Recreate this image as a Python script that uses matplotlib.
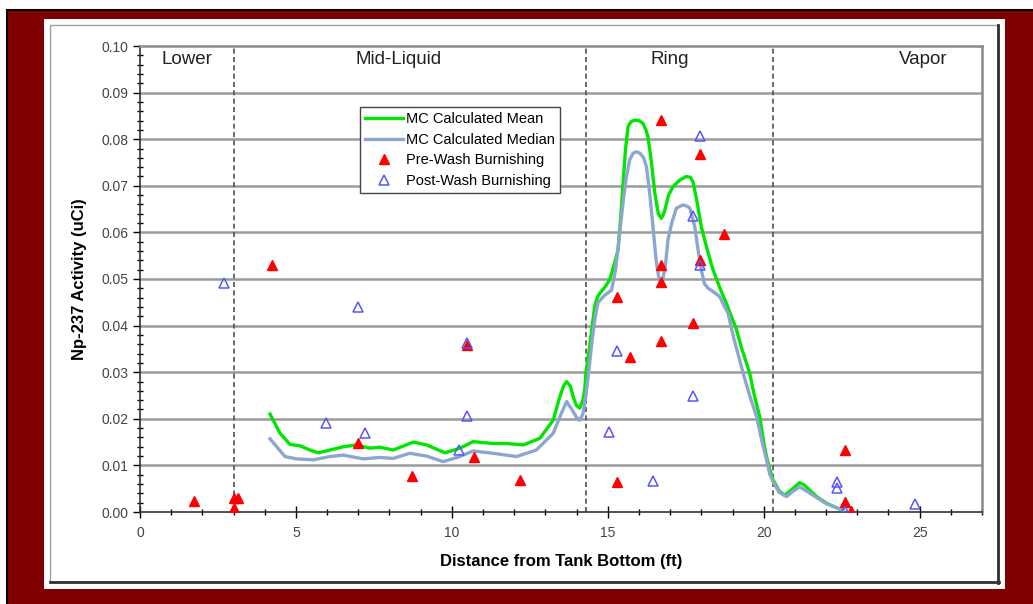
import matplotlib
matplotlib.use('Agg')
import matplotlib.pyplot as plt
from matplotlib.patches import Rectangle
from matplotlib.lines import Line2D
from matplotlib.ticker import MultipleLocator, FormatStrFormatter

plt.rcParams['font.family'] = ['Liberation Sans', 'DejaVu Sans']

# MC calculated mean (green)
mean_x = [4.17, 4.49, 4.81, 5.13, 5.45, 5.72, 6.09, 6.52, 6.94, 7.37, 7.69, 8.12,
          8.76, 9.19, 9.78, 10.26, 10.68, 11.32, 11.75, 12.29, 12.82, 13.25, 13.46,
          13.58, 13.68, 13.8, 13.9, 14.0, 14.1, 14.2, 14.26, 14.3, 14.42, 14.5, 14.58,
          14.66, 14.74, 14.9, 15.06, 15.2, 15.33, 15.41, 15.49, 15.57, 15.65, 15.75,
          15.87, 16.0, 16.13, 16.22, 16.29, 16.4, 16.51, 16.62, 16.72, 16.82, 16.95,
          17.09, 17.3, 17.52, 17.65, 17.73, 17.85, 18.0, 18.2, 18.38, 18.6, 18.8,
          19.12, 19.3, 19.55, 19.7, 19.87, 20.0, 20.09, 20.2, 20.3, 20.5, 20.67,
          20.9, 21.15, 21.3, 21.47, 21.7, 22.01, 22.3, 22.54]
mean_y = [0.0210, 0.0169, 0.0145, 0.0142, 0.0133, 0.0127, 0.0133, 0.0140, 0.0144,
          0.0137, 0.0139, 0.0133, 0.0150, 0.0144, 0.0127, 0.0137, 0.0151, 0.0147,
          0.0147, 0.0144, 0.0158, 0.0197, 0.0247,
          0.0270, 0.0280, 0.0270, 0.0245, 0.0228, 0.0223, 0.0240, 0.0262, 0.0300,
          0.0355, 0.0400, 0.0441, 0.0460, 0.0469, 0.0482, 0.0498, 0.0530, 0.0562,
          0.0630, 0.0705, 0.0780, 0.0827, 0.0838, 0.0841, 0.0840, 0.0834, 0.0820,
          0.0805, 0.0750, 0.0684, 0.0640, 0.0630, 0.0645, 0.0680, 0.0698, 0.0712,
          0.0720, 0.0718, 0.0709, 0.0670, 0.0612, 0.0560, 0.0519, 0.0480, 0.0448,
          0.0393, 0.0350, 0.0298, 0.0250, 0.0205, 0.0150, 0.0119, 0.0090, 0.0069,
          0.0045, 0.0036, 0.0048, 0.0063, 0.0058, 0.0047, 0.0033, 0.0019, 0.0010,
          0.0004]

# MC calculated median (steel blue)
median_x = [4.17, 4.65, 5.02, 5.56, 6.09, 6.52, 7.16, 7.69, 8.12, 8.65, 9.19, 9.72,
            10.26, 10.68, 11.32, 12.07, 12.71, 13.25, 13.5, 13.68, 13.85, 14.0, 14.1,
            14.2, 14.3, 14.42, 14.5, 14.6, 14.69, 14.9, 15.12, 15.25, 15.38, 15.5,
            15.6, 15.7, 15.81, 15.92, 16.03, 16.15, 16.24, 16.35, 16.45, 16.55, 16.65,
            16.75, 16.85, 16.93, 17.05, 17.2, 17.41, 17.55, 17.63, 17.72, 17.79, 17.9,
            18.0, 18.1, 18.22, 18.4, 18.59, 18.75, 18.86, 19.05, 19.23, 19.34, 19.55,
            19.77, 19.95, 20.09, 20.2, 20.3, 20.5, 20.73, 20.95, 21.15, 21.35, 21.58,
            22.0, 22.54]
median_y = [0.0157, 0.0119, 0.0114, 0.0112, 0.0119, 0.0122, 0.0114, 0.0117, 0.0115,
            0.0126, 0.0120, 0.0108, 0.0119, 0.0131, 0.0126, 0.0119, 0.0133, 0.0169,
            0.0210, 0.0237, 0.0220, 0.0203, 0.0197, 0.0210, 0.0250, 0.0320, 0.0370,
            0.0420, 0.0450, 0.0465, 0.0476, 0.0520, 0.0598, 0.0670, 0.0720, 0.0755,
            0.0770, 0.0773, 0.0770, 0.0760, 0.0741, 0.0680, 0.0612, 0.0540, 0.0498,
            0.0494, 0.0530, 0.0584, 0.0620, 0.0652, 0.0659, 0.0656, 0.0652, 0.0630,
            0.0612, 0.0560, 0.0519, 0.0490, 0.0480, 0.0472, 0.0462, 0.0440, 0.0426,
            0.0370, 0.0326, 0.0298, 0.0250, 0.0205, 0.0150, 0.0112, 0.0080, 0.0065,
            0.0042, 0.0033, 0.0045, 0.0054, 0.0046, 0.0036, 0.0018, 0.0004]

# Pre-wash burnishing (red filled)
pre_x = [1.74, 3.01, 3.15, 3.01, 4.22, 6.98, 8.73, 10.49, 10.72, 12.2, 15.30, 15.30,
         15.71, 16.72, 16.72, 16.72, 16.72, 17.73, 17.97, 17.97, 18.72, 22.6, 22.6,
         22.8]
pre_y = [0.0024, 0.0029, 0.0029, 0.0009, 0.0529, 0.0148, 0.0078, 0.0358, 0.0117,
         0.0069, 0.0461, 0.0064, 0.0333, 0.0841, 0.0530, 0.0494, 0.0368, 0.0405,
         0.0768, 0.0541, 0.0597, 0.0132, 0.0022, 0.0003]

# Post-wash burnishing (blue open)
post_x = [2.69, 5.96, 6.98, 7.22, 10.22, 10.49, 10.49, 15.03, 15.30, 16.45, 17.73,
          17.73, 17.97, 17.97, 22.35, 22.35, 22.6, 24.86]
post_y = [0.0491, 0.0190, 0.0439, 0.0170, 0.0133, 0.0362, 0.0205, 0.0172, 0.0345,
          0.0067, 0.0250, 0.0635, 0.0807, 0.0530, 0.0064, 0.0052, 0.0003, 0.0017]

region_names = ['Lower', 'Mid-Liquid', 'Ring', 'Vapor']
region_x = [1.5, 8.3, 17.0, 25.1]
boundaries = [3.0, 14.3, 20.3]

W, H = 1033, 604
fig = plt.figure(figsize=(W / 100, H / 100), dpi=100)
fig.patch.set_facecolor('white')


def px_rect(x0, y0, x1, y1, **kw):
    r = Rectangle((x0 / W, 1 - y1 / H), (x1 - x0) / W, (y1 - y0) / H,
                  transform=fig.transFigure, zorder=-10, **kw)
    fig.patches.append(r)


def px_line(xs, ys, **kw):
    fig.lines.append(Line2D([v / W for v in xs], [1 - v / H for v in ys],
                            transform=fig.transFigure, zorder=-9, **kw))


# maroon background with thin black edge, white panel, shadowed frame
px_rect(7, 10, W + 20, H + 20, facecolor='#800000', edgecolor='black', lw=1.5)
px_rect(44, 19, 1005, 589, facecolor='white', edgecolor='none')
px_rect(50, 25, 998, 582, facecolor='none', edgecolor='#a0a0a0', lw=1.0)
px_line([998, 998], [25, 583], color='#303030', lw=2.0)
px_line([50, 999], [582, 582], color='#303030', lw=2.0)

ax = fig.add_axes([140 / W, 1 - 512 / H, 842 / W, 466 / H])
ax.set_facecolor('white')

for yv in [0.01 * i for i in range(1, 10)]:
    ax.axhline(yv, color='#9a9a9a', lw=1.8, zorder=1)
for b in boundaries:
    ax.axvline(b, color='#505050', lw=1.2, ls=(0, (3, 2)), zorder=1)

ax.plot(mean_x, mean_y, color='#00e600', lw=2.4, label='MC Calculated Mean',
        zorder=3, solid_joinstyle='round')
ax.plot(median_x, median_y, color='#8da6cf', lw=2.4, label='MC Calculated Median',
        zorder=3, solid_joinstyle='round')
ax.plot(pre_x, pre_y, ls='none', marker='^', ms=6.5, color='#ff0000',
        mec='#ff0000', label='Pre-Wash Burnishing', zorder=4)
ax.plot(post_x, post_y, ls='none', marker='^', ms=6.5, mfc='none',
        mec='#5555ff', mew=1.1, label='Post-Wash Burnishing', zorder=5)

for name, xv in zip(region_names, region_x):
    ax.text(xv, 0.097, name, ha='center', va='center', fontsize=13.5, color='#222222')

ax.set_xlim(0, 27)
ax.set_ylim(0, 0.10)
ax.xaxis.set_major_locator(MultipleLocator(5))
ax.xaxis.set_minor_locator(MultipleLocator(1))
ax.yaxis.set_major_locator(MultipleLocator(0.01))
ax.yaxis.set_minor_locator(MultipleLocator(0.002))
ax.yaxis.set_major_formatter(FormatStrFormatter('%.2f'))
ax.tick_params(axis='x', which='major', direction='inout', length=8, width=1,
               labelsize=10, labelcolor='#444444', pad=6)
ax.tick_params(axis='x', which='minor', direction='inout', length=5, width=1)
ax.tick_params(axis='y', which='major', direction='out', length=5, width=1,
               labelsize=10, labelcolor='#444444')
ax.tick_params(axis='y', which='minor', direction='inout', length=4, width=1)

for s in ['top', 'right']:
    ax.spines[s].set_color('#8a8a8a')
    ax.spines[s].set_linewidth(1.8)
for s in ['left', 'bottom']:
    ax.spines[s].set_color('#333333')
    ax.spines[s].set_linewidth(1.2)

ax.set_xlabel('Distance from Tank Bottom (ft)', fontsize=12, fontweight='bold', labelpad=10)
ax.set_ylabel('Np-237 Activity (uCi)', fontsize=12, fontweight='bold', labelpad=10)

leg = ax.legend(loc='upper left', bbox_to_anchor=(0.261, 0.869), fontsize=10.5,
                frameon=True, fancybox=False, edgecolor='#444444', framealpha=1,
                handlelength=2.6, handletextpad=0.2, labelspacing=0.45,
                borderpad=0.35, borderaxespad=0)
leg.get_frame().set_linewidth(1.0)
leg.set_zorder(6)

fig.savefig('out.png', dpi=100)
